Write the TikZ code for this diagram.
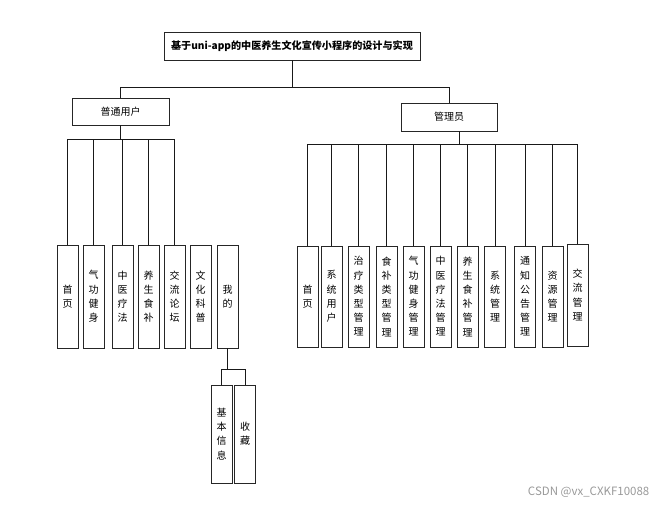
\documentclass[tikz,border=0pt]{standalone}
\usepackage{fontspec}
\setmainfont{Noto Sans CJK SC}
\begin{document}
\begin{tikzpicture}[x=1pt,y=-1pt,
  line width=0.8pt,
  topbox/.style={draw=black!85,fill=white,inner sep=0pt},
  leaf/.style={draw=black!85,fill=white,inner sep=0pt,minimum width=21pt,align=center,
    font=\fontsize{10}{14.2}\selectfont},
  conn/.style={draw=black!90,line width=0.8pt}]
\useasboundingbox (0,0) rectangle (664,506);
% top level
\node[topbox,minimum width=256pt,minimum height=28pt,font=\fontsize{10.1}{12}\selectfont\bfseries] (title) at (292,46) {基于uni-app的中医养生文化宣传小程序的设计与实现};
\node[topbox,minimum width=97pt,minimum height=27pt,font=\fontsize{10}{12}\selectfont] (user) at (120.5,111.5) {普通用户};
\node[topbox,minimum width=96pt,minimum height=28pt,font=\fontsize{10}{12}\selectfont] (admin) at (449,117) {管理员};
\coordinate (tj) at (292,87);
\draw[conn] (title.south) -- (tj);
\draw[conn] (tj) -| (user.north);
\draw[conn] (tj) -| (admin.north);
% user leaves
\foreach \n/\x/\t in {u1/67.5/首\\页, u2/93.5/气\\功\\健\\身, u3/122.5/中\\医\\疗\\法, u4/148.5/养\\生\\食\\补, u5/174.5/交\\流\\论\\坛, u6/200.5/文\\化\\科\\普, u7/227.5/我\\的}
  \node[leaf,minimum height=103pt] (\n) at (\x,296.5) {\t};
\coordinate (uj) at (120.5,139);
\draw[conn] (user.south) -- (uj);
\foreach \n in {u1,u2,u3,u4,u5}
  \draw[conn] (uj) -| (\n.north);
% sub leaves of 我的
\node[leaf,minimum height=98pt] (s1) at (221.5,434) {基\\本\\信\\息};
\node[leaf,minimum height=98pt] (s2) at (245,434) {收\\藏};
\coordinate (sj) at (227.5,369);
\draw[conn] (u7.south) -- (sj);
\draw[conn] (sj) -| (s1.north);
\draw[conn] (sj) -| (s2.north);
% admin leaves
\foreach \n/\x/\t in {a1/307.5/首\\页, a2/331.5/系\\统\\用\\户, a3/358.5/治\\疗\\类\\型\\管\\理, a4/386.5/食\\补\\类\\型\\管\\理, a5/413.5/气\\功\\健\\身\\管\\理, a6/440.5/中\\医\\疗\\法\\管\\理, a7/467.5/养\\生\\食\\补\\管\\理, a8/495/系\\统\\管\\理, a9/525/通\\知\\公\\告\\管\\理, a10/552.5/资\\源\\管\\理}
  \node[leaf,minimum height=101pt] (\n) at (\x,296.5) {\t};
\node[leaf,minimum height=102pt] (a11) at (577.5,295) {交\\流\\管\\理};
\coordinate (aj) at (459,144);
\draw[conn] ([xshift=10pt]admin.south) -- (aj);
\foreach \n in {a1,a2,a3,a4,a5,a6,a7,a8,a9,a10,a11}
  \draw[conn] (aj) -| (\n.north);
% watermark
\node[text=black!40,font=\fontsize{11.5}{13}\selectfont,anchor=east] (wm) at (653,492) {CSDN @vx\_CXKF10088};
\end{tikzpicture}
\end{document}
